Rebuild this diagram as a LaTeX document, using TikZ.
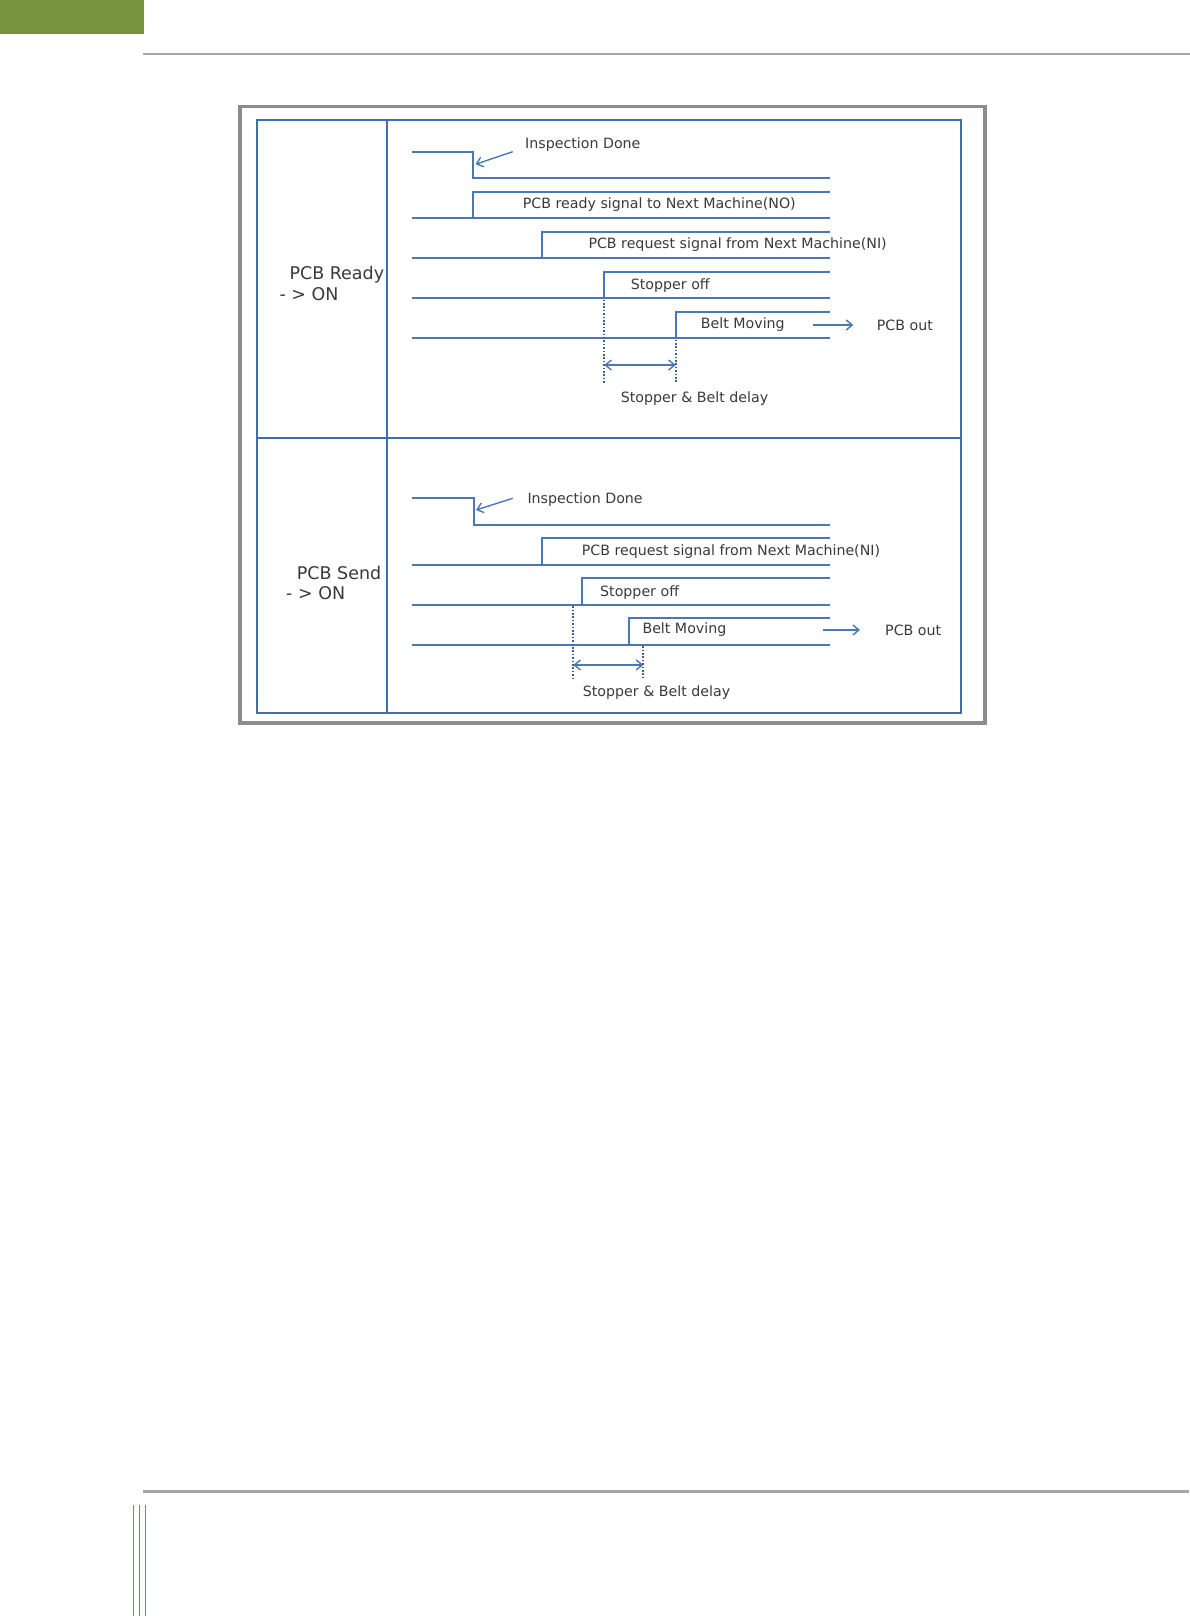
\documentclass[tikz,border=0pt]{standalone}
\usepackage{fontspec}
\setmainfont{DejaVu Sans}
\usetikzlibrary{arrows.meta}
\definecolor{sig}{HTML}{4A78B4}
\definecolor{framebl}{HTML}{3F6EAE}
\definecolor{txt}{HTML}{3A3A3A}
\definecolor{olive}{HTML}{77933C}
\definecolor{rulegray}{HTML}{A6A6A6}
\definecolor{framegray}{HTML}{8C8C8C}
\begin{document}
\begin{tikzpicture}[x=1pt,y=-1pt,
  wave/.style={draw=sig, line width=1.8pt},
  lbl/.style={text=txt, font=\fontsize{14.2}{16}\selectfont, inner sep=0pt, anchor=west},
  biglbl/.style={text=txt, font=\fontsize{17.5}{20}\selectfont, inner sep=0pt, anchor=west},
  dotln/.style={draw=sig!80!black, line width=2pt, dash pattern=on 1.6pt off 1.8pt},
  arr/.style={draw=sig, line width=1.4pt, -{Straight Barb[length=6pt,width=10pt]}},
  darr/.style={draw=sig, line width=1.4pt, {Straight Barb[length=6pt,width=10pt]}-{Straight Barb[length=6pt,width=10pt]}}]
\useasboundingbox (0,0) rectangle (1190,1616);
\fill[white] (0,0) rectangle (1190,1616);
% page decorations
\fill[olive] (0,0) rectangle (144,34);
\draw[rulegray, line width=2.2pt] (143,54.3) -- (1190,54.3);
\draw[rulegray, line width=2.5pt] (143,1491.3) -- (1189,1491.3);
\foreach \x in {133.3,139.3,145.3} \draw[olive, line width=1pt] (\x,1505) -- (\x,1616);
% frames
\draw[framegray, line width=3.5pt] (240,106.5) rectangle (985,723);
\draw[framebl, line width=2.2pt] (256.7,120) rectangle (960.7,712.7);
\draw[framebl, line width=2.2pt] (386.7,120) -- (386.7,712.7);
\draw[framebl, line width=2.2pt] (256.7,438.3) -- (960.7,438.3);

% ===== top panel =====
\node[biglbl] (rdy) at (289.3,275) {PCB Ready};
\node[biglbl] (rdyon) at (279.3,294.3) {- > ON};
% signal 1
\draw[wave] (411.7,151.7) -- (473.3,151.7) -- (473.3,178.3) -- (830,178.3);
\node[lbl] (t1) at (525,145) {Inspection Done};
\coordinate (t1a) at (512.7,151.7);
\coordinate (t1b) at (475.5,164.3);
\draw[arr] (t1a) -- (t1b);
% signal 2
\draw[wave] (411.7,218.3) -- (830,218.3);
\draw[wave] (473.3,218.3) -- (473.3,191.7) -- (830,191.7);
\node[lbl] (t2) at (522.7,205) {PCB ready signal to Next Machine(NO)};
% signal 3
\draw[wave] (411.7,258.3) -- (830,258.3);
\draw[wave] (542.3,258.3) -- (542.3,231.7) -- (830,231.7);
\node[lbl] (t3) at (588.3,245) {PCB request signal from Next Machine(NI)};
% signal 4
\draw[wave] (411.7,298.3) -- (830,298.3);
\draw[wave] (604.3,298.3) -- (604.3,271.7) -- (830,271.7);
\node[lbl] (t4) at (630.7,285.7) {Stopper off};
% signal 5
\draw[wave] (411.7,338.3) -- (830,338.3);
\draw[wave] (675.7,338.3) -- (675.7,311.7) -- (830,311.7);
\node[lbl] (t5) at (700.7,325) {Belt Moving};
\node[lbl] (t6) at (876.7,325) {PCB out};
\coordinate (t5a) at (813.3,325);
\coordinate (t5b) at (853.3,325);
\draw[arr] (t5a) -- (t5b);
% delay
\coordinate (d1a) at (604.3,299.5);
\coordinate (d1b) at (604.3,383.3);
\coordinate (d2a) at (675.7,339.5);
\coordinate (d2b) at (675.7,383.3);
\draw[dotln] (d1a) -- (d1b);
\draw[dotln] (d2a) -- (d2b);
\coordinate (da) at (604.3,365);
\coordinate (db) at (675.7,365);
\draw[darr] (da) -- (db);
\node[lbl] (t7) at (620.7,398.3) {Stopper \& Belt delay};

% ===== bottom panel =====
\node[biglbl] (snd) at (296.7,572.7) {PCB Send};
\node[biglbl] (sndon) at (286,593.3) {- > ON};
% signal 1
\draw[wave] (411.7,498.3) -- (474,498.3) -- (474,525) -- (830,525);
\node[lbl] (b1) at (527.3,500) {Inspection Done};
\coordinate (b1a) at (512.7,498.3);
\coordinate (b1b) at (476,510);
\draw[arr] (b1a) -- (b1b);
% signal 2
\draw[wave] (411.7,565) -- (830,565);
\draw[wave] (542.3,565) -- (542.3,538.3) -- (830,538.3);
\node[lbl] (b2) at (581.7,551.7) {PCB request signal from Next Machine(NI)};
% signal 3
\draw[wave] (411.7,605) -- (830,605);
\draw[wave] (581.7,605) -- (581.7,578.3) -- (830,578.3);
\node[lbl] (b3) at (600,592.3) {Stopper off};
% signal 4
\draw[wave] (411.7,645) -- (830,645);
\draw[wave] (629,645) -- (629,618.3) -- (830,618.3);
\node[lbl] (b4) at (642.3,630) {Belt Moving};
\node[lbl] (b5) at (885,630) {PCB out};
\coordinate (b4a) at (822.7,630);
\coordinate (b4b) at (860,630);
\draw[arr] (b4a) -- (b4b);
% delay
\coordinate (e1a) at (573.3,606.2);
\coordinate (e1b) at (573.3,678.3);
\coordinate (e2a) at (643.3,646.2);
\coordinate (e2b) at (643.3,678.3);
\draw[dotln] (e1a) -- (e1b);
\draw[dotln] (e2a) -- (e2b);
\coordinate (ea) at (573.3,665);
\coordinate (eb) at (643.3,665);
\draw[darr] (ea) -- (eb);
\node[lbl] (b6) at (582.7,692.7) {Stopper \& Belt delay};
\end{tikzpicture}
\end{document}
